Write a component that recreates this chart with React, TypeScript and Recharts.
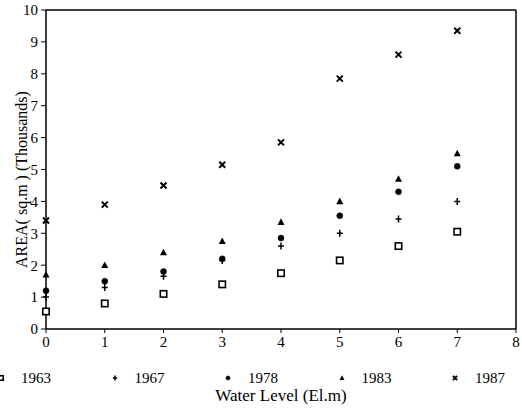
import React from "react";
import {
  ScatterChart,
  Scatter,
  XAxis,
  YAxis,
  Legend,
  ReferenceLine,
  Label,
} from "recharts";

const levels = [0, 1, 2, 3, 4, 5, 6, 7];
const area1963 = [0.55, 0.8, 1.1, 1.4, 1.75, 2.15, 2.6, 3.05];
const area1967 = [1.0, 1.3, 1.65, 2.15, 2.6, 3.0, 3.45, 4.0];
const area1978 = [1.2, 1.5, 1.8, 2.2, 2.85, 3.55, 4.3, 5.1];
const area1983 = [1.7, 2.0, 2.4, 2.75, 3.35, 4.0, 4.7, 5.5];
const area1987 = [3.4, 3.9, 4.5, 5.15, 5.85, 7.85, 8.6, 9.35];
const xTicks = [0, 1, 2, 3, 4, 5, 6, 7, 8];
const yTicks = [0, 1, 2, 3, 4, 5, 6, 7, 8, 9, 10];
const seriesNames = ["1963", "1967", "1978", "1983", "1987"];

const FONT = "'Liberation Serif', 'DejaVu Serif', serif";

const toPoints = (vals: number[]) => levels.map((x, i) => ({ x, y: vals[i] }));

const drawMarker = (kind: string, cx: number, cy: number, s = 1) => {
  switch (kind) {
    case "1963":
      return (
        <rect x={cx - 3.2 * s} y={cy - 3.2 * s} width={6.4 * s} height={6.4 * s} fill="#fff" stroke="#000" strokeWidth={1.6} />
      );
    case "1967":
      return (
        <path d={`M${cx - 3 * s},${cy}H${cx + 3 * s}M${cx},${cy - 3.5 * s}V${cy + 3.5 * s}`} stroke="#000" strokeWidth={1.5} fill="none" />
      );
    case "1978":
      return <circle cx={cx} cy={cy} r={3 * s} fill="#000" stroke="#000" strokeWidth={0.5} />;
    case "1983":
      return (
        <path d={`M${cx},${cy - 3.8 * s}L${cx + 3.5 * s},${cy + 2.8 * s}L${cx - 3.5 * s},${cy + 2.8 * s}Z`} fill="#000" />
      );
    default:
      return (
        <path d={`M${cx - 3 * s},${cy - 3 * s}L${cx + 3 * s},${cy + 3 * s}M${cx + 3 * s},${cy - 3 * s}L${cx - 3 * s},${cy + 3 * s}`} stroke="#000" strokeWidth={2} fill="none" />
      );
  }
};

const makeShape = (kind: string) => (props: any) => {
  const { cx, cy } = props;
  if (cx == null || cy == null) return <g />;
  return drawMarker(kind, cx, cy);
};

const LegendContent = () => (
  <div style={{ position: "relative", width: 522, height: 60, fontFamily: FONT }}>
    {seriesNames.map((name, i) => {
      const mx = 1 + i * 113.5;
      return (
        <div key={name}>
          <svg style={{ position: "absolute", left: mx - 6, top: 19 }} width={12} height={12}>
            {drawMarker(name, 6, 6, 0.7)}
          </svg>
          <span
            style={{
              position: "absolute",
              left: mx + 20,
              top: 16,
              fontSize: 15,
              lineHeight: "18px",
              color: "#000",
              whiteSpace: "nowrap",
            }}
          >
            {name}
          </span>
        </div>
      );
    })}
  </div>
);

const allSeries = [area1963, area1967, area1978, area1983, area1987];

export default function App() {
  return (
    <div style={{ position: "absolute", left: 0, top: 0, background: "#fff" }}>
      <ScatterChart width={522} height={413} margin={{ top: 10, right: 6, left: 16, bottom: 0 }}>
        <XAxis
          type="number"
          dataKey="x"
          domain={[0, 8]}
          ticks={xTicks}
          interval={0}
          height={24}
          tickSize={4}
          tickMargin={3}
          axisLine={{ stroke: "#000", strokeWidth: 1.5 }}
          tickLine={{ stroke: "#000" }}
          tick={{ fill: "#000", fontSize: 15, fontFamily: FONT }}
        >
          <Label
            value="Water Level (El.m)"
            position="bottom"
            offset={36}
            style={{ fill: "#000", fontSize: 17, fontFamily: FONT }}
          />
        </XAxis>
        <YAxis
          type="number"
          dataKey="y"
          domain={[0, 10]}
          ticks={yTicks}
          interval={0}
          width={30}
          tickSize={5}
          tickMargin={3}
          axisLine={{ stroke: "#000", strokeWidth: 1.5 }}
          tickLine={{ stroke: "#000" }}
          tick={{ fill: "#000", fontSize: 15, fontFamily: FONT }}
        >
          <Label
            value="AREA( sq.m ) (Thousands)"
            angle={-90}
            position="insideLeft"
            offset={5}
            dy={10}
            style={{ fill: "#000", fontSize: 16, fontFamily: FONT, textAnchor: "middle" }}
          />
        </YAxis>
        <ReferenceLine y={10} stroke="#000" strokeWidth={1.5} />
        <ReferenceLine x={8} stroke="#000" strokeWidth={1.5} />
        <Legend verticalAlign="bottom" height={60} wrapperStyle={{ left: 0, width: 522 }} content={<LegendContent />} />
        {allSeries.map((vals, i) => (
          <Scatter
            key={seriesNames[i]}
            name={seriesNames[i]}
            data={toPoints(vals)}
            shape={makeShape(seriesNames[i])}
            isAnimationActive={false}
          />
        ))}
      </ScatterChart>
    </div>
  );
}
